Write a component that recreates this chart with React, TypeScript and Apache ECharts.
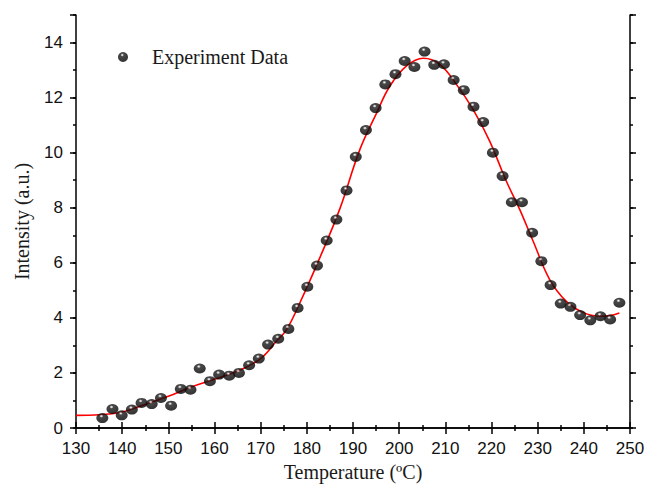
import React, { useEffect, useRef } from "react";
import * as echarts from "echarts";

const temperature = [135.7, 137.9, 139.9, 142.1, 144.2, 146.4, 148.4, 150.6, 152.7, 154.8, 156.8, 159.0, 161.0, 163.2, 165.3, 167.5, 169.6, 171.6, 173.8, 176.0, 178.0, 180.1, 182.2, 184.3, 186.4, 188.6, 190.6, 192.8, 194.9, 197.0, 199.2, 201.2, 203.3, 205.5, 207.6, 209.7, 211.8, 214.0, 216.1, 218.2, 220.3, 222.4, 224.4, 226.6, 228.8, 230.8, 232.8, 235.0, 237.1, 239.2, 241.4, 243.6, 245.7, 247.7];
const intensity = [0.36, 0.69, 0.46, 0.67, 0.91, 0.87, 1.09, 0.81, 1.42, 1.39, 2.16, 1.70, 1.94, 1.90, 2.0, 2.28, 2.52, 3.03, 3.24, 3.6, 4.36, 5.13, 5.9, 6.81, 7.57, 8.63, 9.85, 10.82, 11.62, 12.48, 12.85, 13.33, 13.11, 13.67, 13.19, 13.21, 12.64, 12.27, 11.67, 11.11, 10.0, 9.15, 8.2, 8.2, 7.09, 6.06, 5.19, 4.52, 4.4, 4.1, 3.91, 4.06, 3.94, 4.55];

const fitTemperature = [130, 135, 140, 144, 150, 155, 160, 165, 170, 173.4, 175.6, 178.5, 182.8, 187.1, 191.5, 195, 198, 201.6, 205.2, 208.8, 212.4, 216, 219.6, 223.2, 226.1, 229, 232.6, 236.2, 239.8, 243.4, 245.6, 247.7];
const fitIntensity = [0.46, 0.48, 0.58, 0.8, 1.15, 1.49, 1.77, 2.07, 2.52, 3.15, 3.57, 4.55, 6.18, 7.94, 10.12, 11.4, 12.42, 13.15, 13.43, 13.21, 12.48, 11.57, 10.42, 8.97, 7.94, 6.79, 5.39, 4.6, 4.2, 4.06, 4.08, 4.18];

const xTicks = { min: 130, max: 250, interval: 10 };
const yTicks = { min: 0, max: 15, majorInterval: 2, minorInterval: 1 };

const SERIF = "'Liberation Serif', 'Times New Roman', serif";
const SANS = "'Liberation Sans', Arial, sans-serif";

export default function App() {
  const ref = useRef<HTMLDivElement>(null);
  useEffect(() => {
    if (!ref.current) return;
    const chart = echarts.init(ref.current, null, { renderer: "svg" });
    const lineStyle = { color: "#000", width: 1.5 };
    const sphere = {
      type: "radial",
      x: 0.42,
      y: 0.3,
      r: 0.7,
      colorStops: [
        { offset: 0, color: "#ffffff" },
        { offset: 0.08, color: "#cccccc" },
        { offset: 0.24, color: "#1a1a1a" },
        { offset: 1, color: "#000000" },
      ],
    };
    chart.setOption({
      animation: false,
      backgroundColor: "#fff",
      grid: { left: 76, right: 30, top: 15, bottom: 70 },
      legend: {
        left: 113,
        top: 42,
        data: ["Experiment Data"],
        itemWidth: 12,
        itemHeight: 10,
        textStyle: { fontFamily: SERIF, fontSize: 20, color: "#1a1a1a", padding: [0, 0, 0, 18] },
      },
      xAxis: [
        {
          type: "value",
          position: "bottom",
          min: xTicks.min,
          max: xTicks.max,
          interval: xTicks.interval,
          axisLine: { lineStyle },
          axisTick: { inside: false, length: 6, lineStyle },
          minorTick: { show: true, splitNumber: 2, length: 3, lineStyle },
          splitLine: { show: false },
          axisLabel: { fontFamily: SANS, fontSize: 17, color: "#111", margin: 12 },
          name: "Temperature (ºC)",
          nameLocation: "middle",
          nameGap: 22,
          nameTextStyle: { fontFamily: SERIF, fontSize: 20, color: "#1a1a1a", verticalAlign: "top" },
        },
        {
          type: "value",
          position: "top",
          min: xTicks.min,
          max: xTicks.max,
          interval: xTicks.interval,
          axisLine: { lineStyle },
          axisTick: { inside: false, length: 6, lineStyle },
          minorTick: { show: true, splitNumber: 2, length: 3, lineStyle },
          splitLine: { show: false },
          axisLabel: { show: false },
        },
      ],
      yAxis: [
        {
          type: "value",
          position: "left",
          min: yTicks.min,
          max: yTicks.max,
          interval: yTicks.minorInterval,
          axisLine: { show: true, lineStyle },
          axisTick: { show: true, inside: false, length: 3, lineStyle },
          splitLine: { show: false },
          axisLabel: {
            fontFamily: SANS,
            fontSize: 17,
            color: "#111",
            margin: 13,
            formatter: (v: number) => (v % yTicks.majorInterval === 0 && v < yTicks.max ? String(v) : ""),
          },
          name: "Intensity (a.u.)",
          nameLocation: "middle",
          nameGap: 44,
          nameRotate: 90,
          nameTextStyle: { fontFamily: SERIF, fontSize: 20, color: "#1a1a1a" },
        },
        {
          type: "value",
          position: "left",
          min: yTicks.min,
          max: yTicks.max,
          interval: yTicks.majorInterval,
          axisLine: { show: false },
          axisTick: { show: true, inside: false, length: 6, lineStyle },
          splitLine: { show: false },
          axisLabel: { show: false },
        },
        {
          type: "value",
          position: "right",
          min: yTicks.min,
          max: yTicks.max,
          interval: yTicks.minorInterval,
          axisLine: { show: true, lineStyle },
          axisTick: { show: true, inside: false, length: 3, lineStyle },
          splitLine: { show: false },
          axisLabel: { show: false },
        },
        {
          type: "value",
          position: "right",
          min: yTicks.min,
          max: yTicks.max,
          interval: yTicks.majorInterval,
          axisLine: { show: false },
          axisTick: { show: true, inside: false, length: 6, lineStyle },
          splitLine: { show: false },
          axisLabel: { show: false },
        },
      ],
      series: [
        {
          name: "Fit",
          type: "line",
          xAxisIndex: 0,
          yAxisIndex: 0,
          data: fitTemperature.map((t, i) => [t, fitIntensity[i]]),
          smooth: 0.4,
          showSymbol: false,
          symbol: "none",
          lineStyle: { color: "#ff0000", width: 1.6 },
          z: 2,
        },
        {
          name: "Experiment Data",
          type: "scatter",
          xAxisIndex: 0,
          yAxisIndex: 0,
          data: temperature.map((t, i) => [t, intensity[i]]),
          symbol: "circle",
          symbolSize: [12, 10],
          itemStyle: { color: sphere },
          z: 3,
        },
      ],
    });
    return () => chart.dispose();
  }, []);
  return (
    <div
      ref={ref}
      style={{ position: "absolute", left: 0, top: 0, width: 660, height: 498 }}
    />
  );
}
